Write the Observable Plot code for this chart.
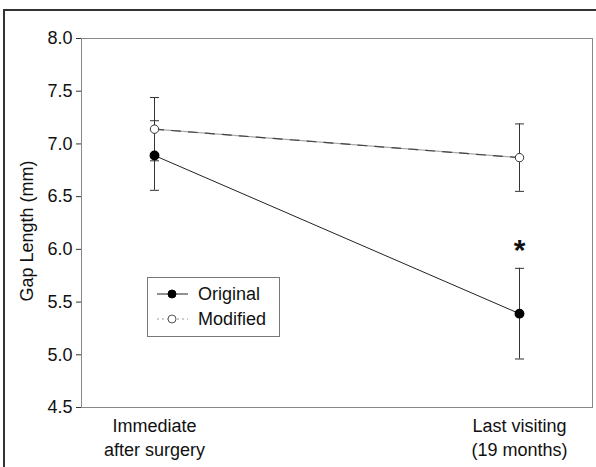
<!DOCTYPE html>
<html><head><meta charset="utf-8">
<script src="https://cdn.jsdelivr.net/npm/d3@7"></script>
<script src="https://cdn.jsdelivr.net/npm/@observablehq/plot@0.6"></script>
<style>
body{margin:0;background:#fff;}
#wrap{position:relative;width:596px;height:467px;font-family:"Liberation Sans",Arial,sans-serif;overflow:hidden;}
#wrap svg{position:absolute;left:0;top:0;}
#outer{position:absolute;left:3px;top:9px;width:600px;height:470px;border-top:2px solid #333;border-left:2px solid #333;}
#legend{position:absolute;left:147px;top:277px;width:133px;height:60px;border:1px solid #777;box-sizing:border-box;background:#fff;}
</style></head><body><div id="wrap"><div id="outer"></div></div>
<script>
const times = ["Immediate\nafter surgery", "Last visiting\n(19 months)"];
const groups = ["Original", "Modified"];
const originalMean = [6.89, 5.39];
const originalErr = [0.33, 0.43];
const modifiedMean = [7.14, 6.87];
const modifiedErr = [0.30, 0.32];
const yTicks = [4.5, 5.0, 5.5, 6.0, 6.5, 7.0, 7.5, 8.0];
const yLabel = "Gap Length (mm)";
const sigLabel = "*";
const sigTime = times[1];
const sigValue = 6.04;

const rows = [];
times.forEach((t, i) => {
  rows.push({time: t, group: groups[0], mean: originalMean[i], err: originalErr[i]});
  rows.push({time: t, group: groups[1], mean: modifiedMean[i], err: modifiedErr[i]});
});
const orig = rows.filter(d => d.group === "Original");
const mod = rows.filter(d => d.group === "Modified");

const capSymbol = {draw(ctx, size) { const r = Math.sqrt(size / Math.PI); ctx.moveTo(-r, 0); ctx.lineTo(r, 0); }};
const FONT = "Liberation Sans, Arial, sans-serif";

const chart = Plot.plot({
  width: 596, height: 467,
  marginLeft: 81, marginRight: 4, marginTop: 38, marginBottom: 60,
  style: {fontFamily: FONT, fontSize: "18px", color: "#111", background: "transparent"},
  x: {type: "point", domain: times, padding: 0.2},
  y: {domain: [4.5, 8.0]},
  marks: [
    Plot.frame({stroke: "#888"}),
    Plot.axisY({ticks: yTicks, tickFormat: d3.format(".1f"), tickSize: 5, tickPadding: 4, fontSize: 18, stroke: "#333", label: null}),
    Plot.text([yLabel], {frameAnchor: "left", textAnchor: "middle", rotate: -90, dx: -54, dy: 8, fontSize: 18, fill: "#111"}),
    Plot.axisX({tickSize: 0, tickPadding: 8, fontSize: 18, lineHeight: 1.33, label: null}),
    Plot.ruleX([0], {frameAnchor: "left", stroke: "#333"}),
    Plot.ruleX(rows, {x: "time", y1: d => d.mean - d.err, y2: d => d.mean + d.err, stroke: "#333", strokeWidth: 1}),
    Plot.dot(rows, {x: "time", y: d => d.mean - d.err, symbol: capSymbol, r: 4.5, stroke: "#333", strokeWidth: 1}),
    Plot.dot(rows, {x: "time", y: d => d.mean + d.err, symbol: capSymbol, r: 4.5, stroke: "#333", strokeWidth: 1}),
    Plot.line(mod, {x: "time", y: "mean", stroke: "#aaa", strokeWidth: 1.2}),
    Plot.line(mod, {x: "time", y: "mean", stroke: "#444", strokeWidth: 1.2, strokeDasharray: "9,8"}),
    Plot.line(orig, {x: "time", y: "mean", stroke: "#222", strokeWidth: 1}),
    Plot.dot(orig, {x: "time", y: "mean", r: 4.2, fill: "#000", stroke: "#000"}),
    Plot.dot(mod, {x: "time", y: "mean", r: 4.2, fill: "#fff", stroke: "#333", strokeWidth: 1}),
    Plot.text([{time: sigTime, v: sigValue}], {x: "time", y: "v", text: () => sigLabel, fontSize: 30, fontWeight: "bold", dy: 5, fill: "#111"})
  ]
});
document.getElementById("wrap").appendChild(chart);

// legend overlay
const leg = d3.select("#wrap").append("div").attr("id", "legend");
const lsvg = leg.append("svg").attr("width", 131).attr("height", 58).style("position", "absolute").style("left", 0).style("top", 0);
const entries = [
  {name: groups[0], fill: "#000", stroke: "#222", dash: null, y: 16},
  {name: groups[1], fill: "#fff", stroke: "#999", dash: "2,3", y: 41}
];
entries.forEach(e => {
  lsvg.append("line").attr("x1", 9).attr("x2", 40).attr("y1", e.y).attr("y2", e.y).attr("stroke", e.stroke).attr("stroke-dasharray", e.dash);
  lsvg.append("circle").attr("cx", 24).attr("cy", e.y).attr("r", 4).attr("fill", e.fill).attr("stroke", e.name === "Original" ? "#000" : "#555");
  lsvg.append("text").attr("x", 50).attr("y", e.y).attr("dy", "0.35em").attr("font-size", 18).attr("font-family", FONT).attr("fill", "#111").text(e.name);
});
</script></body></html>
